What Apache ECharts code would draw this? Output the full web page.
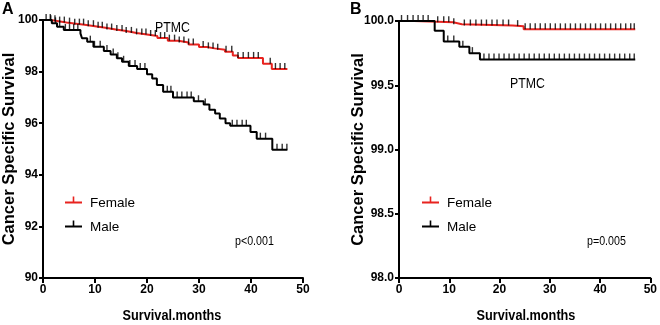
<!DOCTYPE html>
<html>
<head>
<meta charset="utf-8">
<script src="https://cdn.jsdelivr.net/npm/echarts@6/dist/echarts.min.js"></script>
<style>
  html, body {margin: 0; padding: 0; background: #fff;}
  #main {width: 660px; height: 325px;}
</style>
</head>
<body>
<div id="main"></div>
<script>
// panel A: all PTMC, Kaplan-Meier steps [month, survival %]
const femaleA = [[0, 100], [1.5, 99.95], [3, 99.9], [4.5, 99.86], [6, 99.82], [8, 99.76], [10, 99.7], [12, 99.63],
  [14, 99.57], [16, 99.5], [18, 99.44], [20, 99.38], [22, 99.3], [24, 99.2], [26, 99.13], [28, 99.05], [30, 98.95],
  [31.5, 98.9], [33, 98.85], [35, 98.77], [36.5, 98.62], [37.5, 98.53], [42.3, 98.3], [44, 98.1], [47, 98.1]];
const maleA = [[0, 100], [1.7, 99.87], [2.7, 99.74], [4, 99.61], [7.2, 99.48], [7.5, 99.29], [8.5, 99.16], [9.7, 98.96],
  [11.7, 98.8], [13, 98.66], [14.2, 98.52], [15.2, 98.38], [16.5, 98.22], [18.1, 98.1], [20, 97.9], [21, 97.73],
  [21.9, 97.48], [23.1, 97.22], [25, 97.0], [29, 96.85], [30.9, 96.72], [32, 96.52], [33.1, 96.38], [34, 96.18],
  [35.1, 96.0], [36, 95.9], [39.9, 95.66], [41.1, 95.4], [44.1, 94.97], [47, 94.97]];
// censored times (months)
const femaleCensA = [0.6, 1.5, 2.3, 3.2, 4.1, 5.1, 6.1, 7, 7.8, 8.7, 9.7, 10.6, 11.4, 12.3, 13.2, 14.2, 15.2, 16, 17, 18,
  19, 19.8, 20.7, 21.6, 22.6, 23.4, 24.3, 25.3, 26.2, 27.1, 28, 28.9, 30.8, 31.8, 32.7, 33.6, 35.2, 36.3, 37.5, 38.5,
  39.5, 40.5, 41.4, 43.7, 44.7, 45.6, 46.5];
const maleCensA = [1.4, 2.4, 3.2, 4.3, 5.1, 5.9, 6.7, 9.1, 9.9, 11, 12.3, 13.5, 14.4, 15.5, 16.7, 17.7, 18.7, 19.6, 23.9,
  24.6, 25.8, 26.7, 27.7, 28.5, 29.9, 31.2, 36.4, 37.3, 38.3, 39.1, 41.8, 42.8, 45, 46, 46.9];

// panel B
const femaleB = [[0, 100], [3, 99.99], [10.8, 99.975], [12.5, 99.965], [22.6, 99.96], [24.8, 99.935], [47, 99.935]];
const maleB = [[0, 100], [7.1, 99.925], [8.9, 99.84], [12, 99.8], [14, 99.75], [16.1, 99.7], [47, 99.7]];
const femaleCensB = [7.7, 8.9, 9.9, 10.9, 13, 14.2, 15.3, 16.4, 17.4, 18.5, 19.5, 20.7, 21.8, 23.6, 25.1, 26.1, 27.1,
  28.1, 29.1, 30.1, 31.1, 32.1, 33.1, 34.1, 35.1, 36.1, 37.1, 38.1, 39.1, 40.1, 41.1, 42.1, 43.1, 44.1, 45.1, 46.1, 46.8];
const maleCensB = [0.5, 1.7, 2.8, 3.8, 4.8, 5.8, 9.7, 10.9, 12.7, 14.6, 16.9, 17.9, 18.9, 19.9, 20.9, 21.9, 22.9, 23.9,
  24.9, 25.9, 26.9, 27.9, 28.9, 29.9, 30.9, 31.9, 32.9, 33.9, 34.9, 35.9, 36.9, 37.9, 38.9, 39.9, 40.9, 41.9, 42.9,
  43.9, 44.9, 45.9, 46.8];

const SANS = '"Liberation Sans", Arial, sans-serif';
const RED = '#e8231f';

// survival at time t, read from the step list
function survAt(steps, t) {
  let v = steps[0][1];
  for (const p of steps) {
    if (p[0] <= t) v = p[1];
  }
  return v;
}

function censor(steps, times) {
  return times.map(t => [t, survAt(steps, t)]);
}

function stepLine(name, data, color, idx) {
  return {
    type: 'line', name: name, data: data, step: 'end', xAxisIndex: idx, yAxisIndex: idx,
    symbol: 'none', lineStyle: {color: color, width: 2}, itemStyle: {color: color}, z: name === 'Male' ? 3 : 2,
  };
}

function ticks(data, idx) {
  return {
    type: 'scatter', name: 'cens', data: data, xAxisIndex: idx, yAxisIndex: idx,
    symbol: 'rect', symbolSize: [1.4, 6], symbolOffset: [0, -3],
    itemStyle: {color: '#000'}, z: 4, silent: true,
  };
}

function xAx(idx) {
  return {
    type: 'value', gridIndex: idx, min: 0, max: 50, interval: 10,
    axisLine: {lineStyle: {color: '#000', width: 2}},
    axisTick: {length: 5, lineStyle: {color: '#000', width: 2}},
    axisLabel: {fontFamily: SANS, fontWeight: 'bold', fontSize: 12, color: '#000', margin: 6},
    splitLine: {show: false},
  };
}

function yAx(idx, min, interval, gap, fmt) {
  return {
    type: 'value', gridIndex: idx, min: min, max: 100, interval: interval,
    name: 'Cancer Specific Survival', nameLocation: 'middle', nameGap: gap, nameMoveOverlap: false,
    nameTextStyle: {fontFamily: SANS, fontWeight: 'bold', fontSize: 16.5, color: '#000'},
    axisLine: {show: true, lineStyle: {color: '#000', width: 2}},
    axisTick: {show: true, length: 4, lineStyle: {color: '#000', width: 2}},
    axisLabel: {fontFamily: SANS, fontWeight: 'bold', fontSize: 12, color: '#000', margin: 5, formatter: fmt},
    splitLine: {show: false},
  };
}

const legendIcon = 'path://M0,6H17V8H0Z M7.7,1H9.3V6H7.7Z M0,14L0.01,14Z';

function legend(left) {
  return {
    data: ['Female', 'Male'], orient: 'vertical', left: left, top: 196, padding: 0,
    itemWidth: 17, itemHeight: 14, itemGap: 10, icon: legendIcon,
    textStyle: {fontFamily: SANS, fontSize: 13.5, color: '#000', padding: [0, 0, 0, 3]},
    selectedMode: false,
  };
}

// text squeezed sideways like the condensed face of the original
function label(x, y, text, size, weight, align, sx) {
  return {
    type: 'text', x: x, y: y, scaleX: sx || 0.82,
    style: {
      text: text, font: weight + ' ' + size + 'px ' + SANS, fill: '#000',
      textAlign: align || 'left', textVerticalAlign: 'middle',
    },
  };
}

const chart = echarts.init(document.getElementById('main'));
chart.setOption({
  animation: false,
  backgroundColor: '#fff',
  grid: [
    {left: 43, top: 20, width: 260, height: 258},
    {left: 399, top: 21, width: 254, height: 257},
  ],
  xAxis: [xAx(0), xAx(1)],
  yAxis: [
    yAx(0, 90, 2, 25, v => String(v)),
    yAx(1, 98, 0.5, 32, v => v.toFixed(1)),
  ],
  legend: [legend(65), legend(422)],
  series: [
    stepLine('Female', femaleA, RED, 0),
    stepLine('Male', maleA, '#000', 0),
    ticks(censor(femaleA, femaleCensA), 0),
    ticks(censor(maleA, maleCensA), 0),
    stepLine('Female', femaleB, RED, 1),
    stepLine('Male', maleB, '#000', 1),
    ticks(censor(femaleB, femaleCensB), 1),
    ticks(censor(maleB, maleCensB), 1),
  ],
  graphic: [
    label(2, 10, 'A', 16, 'bold', 'left', 1),
    label(350, 10, 'B', 16, 'bold', 'left', 1),
    label(155, 28, 'PTMC', 15, 'normal'),
    label(510, 84, 'PTMC', 15, 'normal'),
    label(235, 241, 'p<0.001', 13, 'normal'),
    label(587, 241, 'p=0.005', 13, 'normal'),
    label(172, 316, 'Survival.months', 15.5, 'bold', 'center'),
    label(526, 316, 'Survival.months', 15.5, 'bold', 'center'),
  ],
});
</script>
</body>
</html>
